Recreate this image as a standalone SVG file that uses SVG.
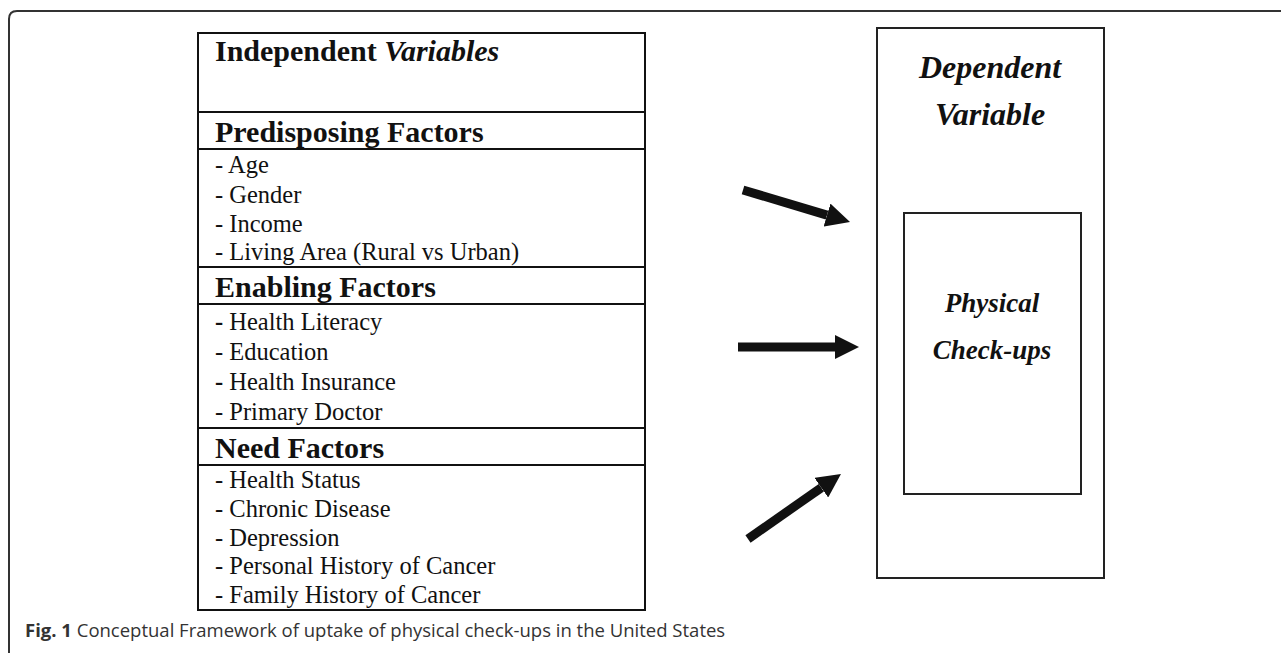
<svg xmlns="http://www.w3.org/2000/svg" width="1281" height="653" viewBox="0 0 1281 653">
<style>
.frame{fill:none;stroke:#333;stroke-width:2}
.box{fill:#fff;stroke:#111;stroke-width:2}
.sep{stroke:#111;stroke-width:2}
.rbox{fill:#fff;stroke:#222;stroke-width:2}
.head{font-family:"Liberation Serif",serif;font-weight:bold;font-size:30px;fill:#111}
.item{font-family:"Liberation Serif",serif;font-size:24.5px;fill:#111}
.dv{font-family:"Liberation Serif",serif;font-weight:bold;font-style:italic;font-size:32px;fill:#111;text-anchor:middle}
.pc{font-family:"Liberation Serif",serif;font-weight:bold;font-style:italic;font-size:27px;fill:#111;text-anchor:middle}
.cap{font-family:"Open Sans","Noto Sans",sans-serif;font-size:18.5px;fill:#333}
.arrow{stroke:#111;stroke-width:9;fill:none;marker-end:url(#ah)}
</style>
<defs>
<marker id="ah" markerUnits="userSpaceOnUse" markerWidth="24" markerHeight="24" refX="0" refY="12" orient="auto">
<path d="M0,0 L24,12 L0,24 z" fill="#111"/>
</marker>
</defs>
<rect width="1281" height="653" fill="#fff"/>
<path class="frame" d="M9,653 L9,19 Q9,11 17,11 L1281,11"/>
<g id="independent">
<rect class="box" x="198" y="33" width="447" height="577"/>
<text class="head" x="215" y="61">Independent <tspan font-style="italic">Variables</tspan></text>
<line class="sep" x1="198" y1="112" x2="645" y2="112"/>
<text class="head" x="215" y="142">Predisposing Factors</text>
<line class="sep" x1="198" y1="149" x2="645" y2="149"/>
<text class="item" x="215" y="173">- Age</text>
<text class="item" x="215" y="203">- Gender</text>
<text class="item" x="215" y="232">- Income</text>
<text class="item" x="215" y="260">- Living Area (Rural vs Urban)</text>
<line class="sep" x1="198" y1="267" x2="645" y2="267"/>
<text class="head" x="215" y="297">Enabling Factors</text>
<line class="sep" x1="198" y1="304" x2="645" y2="304"/>
<text class="item" x="215" y="330"><tspan font-weight="bold">-</tspan> Health Literacy</text>
<text class="item" x="215" y="360">- Education</text>
<text class="item" x="215" y="390"><tspan font-weight="bold">-</tspan> Health Insurance</text>
<text class="item" x="215" y="420">- Primary Doctor</text>
<line class="sep" x1="198" y1="428" x2="645" y2="428"/>
<text class="head" x="215" y="458">Need Factors</text>
<line class="sep" x1="198" y1="465" x2="645" y2="465"/>
<text class="item" x="215" y="488">- Health Status</text>
<text class="item" x="215" y="517">- Chronic Disease</text>
<text class="item" x="215" y="546">- Depression</text>
<text class="item" x="215" y="574">- Personal History of Cancer</text>
<text class="item" x="215" y="603">- Family History of Cancer</text>
</g>
<g id="dependent">
<rect class="rbox" x="877" y="28" width="227" height="550"/>
<text class="dv" x="990" y="78">Dependent</text>
<text class="dv" x="990" y="125">Variable</text>
</g>
<g id="checkups">
<rect class="rbox" x="904" y="213" width="177" height="281"/>
<text class="pc" x="992" y="312">Physical</text>
<text class="pc" x="992" y="359">Check-ups</text>
</g>
<g id="connectors">
<line class="arrow" x1="743" y1="190" x2="827" y2="215.1"/>
<line class="arrow" x1="738" y1="347" x2="835" y2="347"/>
<line class="arrow" x1="748" y1="539" x2="821.3" y2="487.7"/>
</g>
<text class="cap" x="25" y="637"><tspan font-weight="bold">Fig. 1</tspan> Conceptual Framework of uptake of physical check-ups in the United States</text>
</svg>
